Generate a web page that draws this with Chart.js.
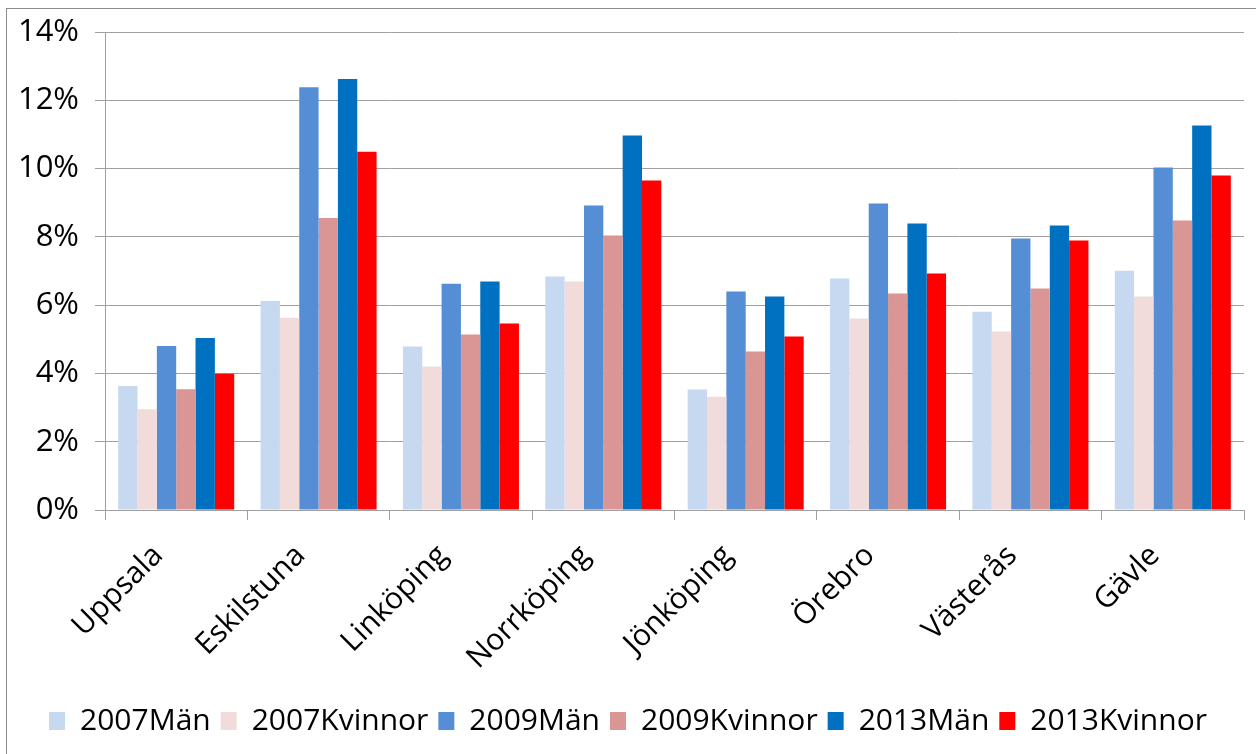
<!DOCTYPE html>
<html>
<head>
<meta charset="utf-8">
<script src="https://cdn.jsdelivr.net/npm/chart.js@4/dist/chart.umd.min.js"></script>
<style>
    html, body { margin: 0; padding: 0; background: #fff; overflow: hidden; }
    #wrap { position: relative; width: 1256px; height: 754px; }
    #frame { position: absolute; left: 6px; top: 8px; width: 1300px; height: 800px; border: 1px solid #8c8c8c; }
    #chart { position: absolute; left: 0; top: 0; }
</style>
</head>
<body>
<div id="wrap">
    <div id="frame"></div>
    <canvas id="chart" width="1256" height="754"></canvas>
</div>
<script>
// Cities on the category axis
const cities = ['Uppsala', 'Eskilstuna', 'Linköping', 'Norrköping', 'Jönköping', 'Örebro', 'Västerås', 'Gävle'];

// Series values, in percent
const men2007 = [3.63, 6.12, 4.79, 6.84, 3.53, 6.78, 5.81, 7.01];
const women2007 = [2.95, 5.63, 4.20, 6.69, 3.32, 5.61, 5.23, 6.25];
const men2009 = [4.80, 12.38, 6.63, 8.92, 6.40, 8.98, 7.95, 10.03];
const women2009 = [3.54, 8.55, 5.14, 8.04, 4.64, 6.34, 6.49, 8.48];
const men2013 = [5.04, 12.62, 6.69, 10.97, 6.25, 8.39, 8.33, 11.26];
const women2013 = [3.99, 10.49, 5.46, 9.65, 5.08, 6.93, 7.89, 9.80];

// Y axis tick labels
const yTickLabels = ['0%', '2%', '4%', '6%', '8%', '10%', '12%', '14%'];

const fontFamily = '"Open Sans", sans-serif';

const series = [
    { label: '2007Män', data: men2007, color: '#C6D9F1' },
    { label: '2007Kvinnor', data: women2007, color: '#F2DCDB' },
    { label: '2009Män', data: men2009, color: '#558ED5' },
    { label: '2009Kvinnor', data: women2009, color: '#D99694' },
    { label: '2013Män', data: men2013, color: '#0070C0' },
    { label: '2013Kvinnor', data: women2013, color: '#FF0000' }
];

const ctx = document.getElementById('chart').getContext('2d');

new Chart(ctx, {
    type: 'bar',
    data: {
        labels: cities,
        datasets: series.map(s => ({
            label: s.label,
            data: s.data,
            backgroundColor: s.color,
            borderWidth: 0,
            categoryPercentage: 0.815,
            barPercentage: 1.0
        }))
    },
    options: {
        responsive: false,
        animation: false,
        layout: {
            padding: { left: 12, right: 12, top: 32, bottom: 8 }
        },
        scales: {
            x: {
                grid: {
                    offset: true,
                    drawOnChartArea: false,
                    drawTicks: true,
                    tickLength: 10,
                    color: '#a0a0a0'
                },
                border: { color: '#a0a0a0' },
                ticks: {
                    minRotation: 45,
                    maxRotation: 45,
                    padding: 18,
                    labelOffset: -18,
                    color: '#000',
                    font: { family: fontFamily, size: 30 }
                },
                afterFit: function(scale) {
                    scale.height = 186;
                }
            },
            y: {
                min: 0,
                max: 14,
                ticks: {
                    stepSize: 2,
                    padding: 16,
                    color: '#000',
                    font: { family: fontFamily, size: 31, lineHeight: 1.0 },
                    callback: function(value) {
                        return yTickLabels[Math.round(value / 2)];
                    }
                },
                grid: {
                    color: '#a0a0a0',
                    tickLength: 10
                },
                border: { color: '#a0a0a0' },
                afterFit: function(scale) {
                    scale.width = 93;
                }
            }
        },
        plugins: {
            legend: {
                position: 'bottom',
                labels: {
                    boxWidth: 16,
                    boxHeight: 18,
                    padding: 10,
                    color: '#000',
                    font: { family: fontFamily, size: 30 }
                }
            },
            title: { display: false },
            tooltip: { enabled: false }
        }
    }
});
</script>
</body>
</html>
